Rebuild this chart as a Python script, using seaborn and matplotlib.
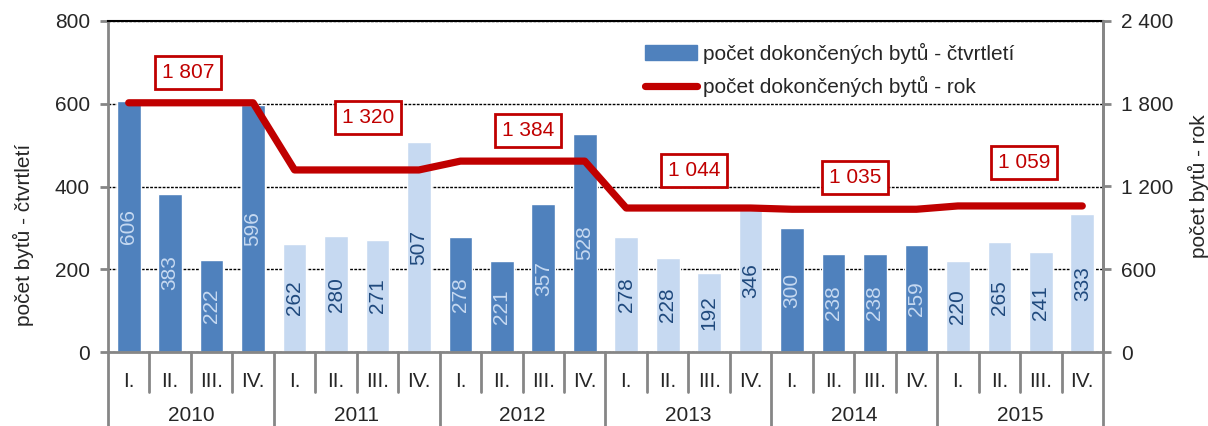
import numpy as np
import pandas as pd
import seaborn as sns
import matplotlib
matplotlib.use("Agg")
import matplotlib.pyplot as plt
from matplotlib.transforms import blended_transform_factory
from matplotlib.patches import Patch
from matplotlib.lines import Line2D
from matplotlib.ticker import FuncFormatter

years = [2010, 2011, 2012, 2013, 2014, 2015]
quarters = ["I.", "II.", "III.", "IV."]
quarterly = [606, 383, 222, 596,
             262, 280, 271, 507,
             278, 221, 357, 528,
             278, 228, 192, 346,
             300, 238, 238, 259,
             220, 265, 241, 333]
yearly = [1807, 1320, 1384, 1044, 1035, 1059]

# placement of the yearly value boxes (right axis units / category offset)
box_y = [2024, 1699, 1605, 1316, 1265, 1373]
box_dx = [-0.07, 0.27, 0.14, 0.14, 0.02, 0.1]

dark = "#4F81BD"
light = "#C6D9F1"
red = "#C00000"
grey = "#868686"
fs = 15

df = pd.DataFrame({
    "pos": range(24),
    "year": np.repeat(years, 4),
    "quarter": quarters * len(years),
    "value": quarterly,
})
df["shade"] = ["dark" if y % 2 == 0 else "light" for y in df["year"]]
df["rok"] = np.repeat(yearly, 4)

sns.set_style("white")
plt.rcParams["font.family"] = ["Liberation Sans", "DejaVu Sans"]
plt.rcParams["font.size"] = fs

fig = plt.figure(figsize=(12.08, 4.26), dpi=100)
ax = fig.add_axes([108 / 1208, 1 - 352 / 426, 995 / 1208, 331 / 426])

sns.barplot(data=df, x="pos", y="value", hue="shade", hue_order=["dark", "light"],
            palette={"dark": dark, "light": light}, dodge=False, width=0.57,
            saturation=1, legend=False, ax=ax)
for cont, col in zip(ax.containers, [light, "#1F497D"]):
    ax.bar_label(cont, label_type="center", rotation=90, color=col, fontsize=fs)

ax.set_xlim(-0.5, 23.5)
ax.set_ylim(0, 800)
ax.set_yticks([0, 200, 400, 600, 800])
ax.set_axisbelow(True)
ax.yaxis.grid(True, linestyle=(0, (2, 1)), color="black", lw=1)
ax.set_xticks([])
ax.set_xlabel("")
ax.set_ylabel("")
for s in ["left", "bottom", "right"]:
    ax.spines[s].set_color(grey)
    ax.spines[s].set_linewidth(2)
ax.spines["top"].set_color("black")
ax.spines["top"].set_linewidth(1.5)
ax.tick_params(axis="y", length=6, width=2, color=grey, pad=7, labelsize=fs)

ax2 = ax.twinx()
sns.lineplot(data=df, x="pos", y="rok", color=red, lw=5.2, ax=ax2,
             solid_capstyle="round")
ax2.set_ylim(0, 2400)
ax2.set_yticks([0, 600, 1200, 1800, 2400])
ax2.yaxis.set_major_formatter(FuncFormatter(lambda v, p: f"{int(v):,}".replace(",", " ")))
ax2.set_ylabel("")
ax2.set_xlabel("")
for s in ["left", "bottom", "top"]:
    ax2.spines[s].set_visible(False)
ax2.spines["right"].set_color(grey)
ax2.spines["right"].set_linewidth(2)
ax2.tick_params(axis="y", length=6, width=2, color=grey, pad=7, labelsize=fs)

for k, (val, by, dx) in enumerate(zip(yearly, box_y, box_dx)):
    ax2.text(4 * k + 1.5 + dx, by, f"{val:,}".replace(",", " "), ha="center", va="center",
             color=red, fontsize=fs,
             bbox=dict(boxstyle="square,pad=0.33", fc="white", ec=red, lw=2))

# two-level category axis
tr = blended_transform_factory(ax.transData, ax.transAxes)
for i, q in enumerate(df["quarter"]):
    ax.text(i, -0.09, q, transform=tr, ha="center", va="center", fontsize=fs)
for k, y in enumerate(years):
    ax.text(4 * k + 1.5, -0.193, str(y), transform=tr, ha="center", va="center", fontsize=fs)
for b in np.arange(-0.5, 24):
    low = -0.23 if (b + 0.5) % 4 == 0 else -0.121
    ax.plot([b, b], [0, low], transform=tr, clip_on=False, color=grey, lw=2)

handles = [Patch(color=dark), Line2D([], [], color=red, lw=5.2, solid_capstyle="round")]
ax2.legend(handles, ["počet dokončených bytů - čtvrtletí", "počet dokončených bytů - rok"],
           loc="upper left", bbox_to_anchor=(0.54, 0.935), frameon=False,
           handlelength=2.5, handletextpad=0.25, labelspacing=0.6,
           borderaxespad=0, borderpad=0, fontsize=fs)

fig.text(23 / 1208, 0.448, "počet bytů - čtvrtletí", rotation=90, ha="center", va="center", fontsize=fs)
fig.text(1198 / 1208, 0.563, "počet bytů - rok", rotation=90, ha="center", va="center", fontsize=fs)

fig.savefig("out.png", dpi=100)
